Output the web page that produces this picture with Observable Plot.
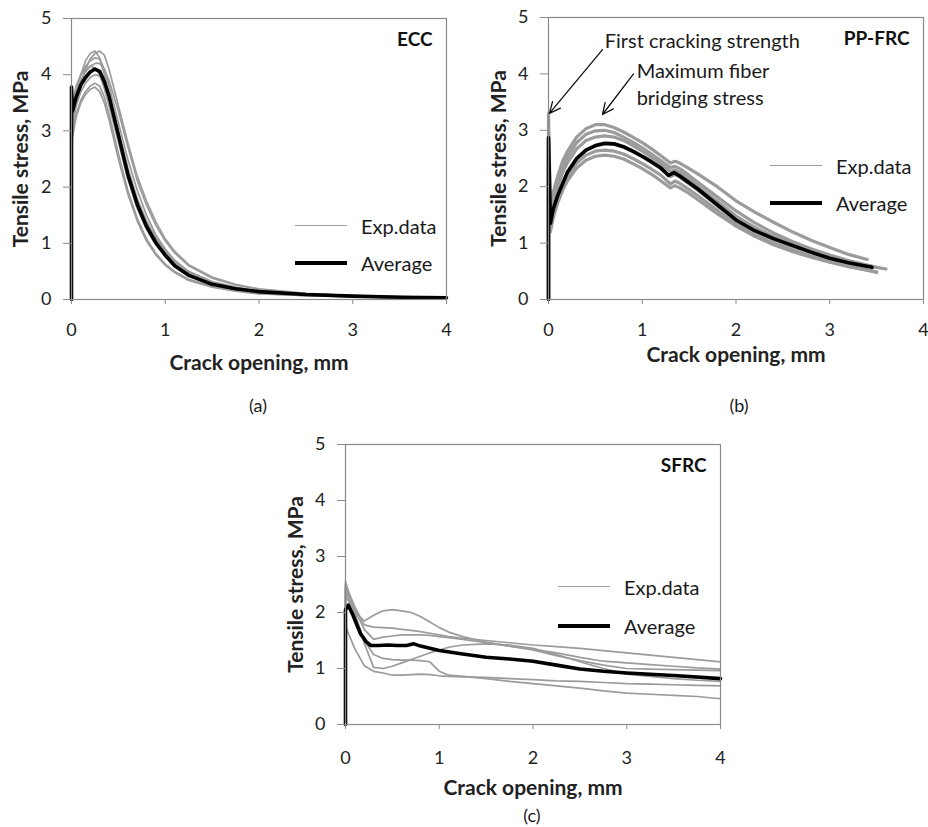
<!DOCTYPE html>
<html><head><meta charset="utf-8">
<script src="https://cdn.jsdelivr.net/npm/d3@7"></script>
<script src="https://cdn.jsdelivr.net/npm/@observablehq/plot@0.6"></script>
<style>
body{margin:0;background:#fff;}
#wrap{position:relative;width:928px;height:827px;font-family:Lato,"Open Sans",sans-serif;color:#1a1a1a;background:#fff;overflow:hidden;}
.panel{position:absolute;}
.cap{position:absolute;font-size:18px;transform:translate(-50%,-50%);white-space:nowrap;}
.leg{position:absolute;font-size:20px;white-space:nowrap;}
.leg .sw{position:absolute;height:0;}
.leg .lb{position:absolute;transform:translateY(-50%);}
svg [aria-label="x-axis label"] text, svg [aria-label="y-axis label"] text{font-weight:700;font-size:21px;}
</style></head>
<body><div id="wrap"></div>
<script>
// ---------- ECC (a) ----------
const eccGrid = [0,0.05,0.1,0.15,0.2,0.25,0.3,0.35,0.4,0.5,0.6,0.7,0.8,0.9,1.0,1.1,1.25,1.5,1.75,2.0,2.5,3.0,3.5,4.0];
const eccExp = [
  [3.2,3.7,4.0,4.25,4.38,4.42,4.3,4.0,3.65,2.95,2.3,1.75,1.35,1.05,0.82,0.65,0.47,0.3,0.2,0.14,0.09,0.06,0.04,0.03],
  [3.0,3.5,3.85,4.1,4.28,4.38,4.42,4.35,4.1,3.45,2.8,2.2,1.75,1.38,1.08,0.86,0.62,0.4,0.27,0.19,0.11,0.07,0.05,0.04],
  [3.3,3.75,4.0,4.15,4.25,4.3,4.28,4.1,3.8,3.15,2.5,1.95,1.5,1.15,0.9,0.7,0.5,0.32,0.22,0.15,0.09,0.06,0.04,0.03],
  [3.1,3.6,3.9,4.05,4.15,4.2,4.2,4.1,3.9,3.35,2.72,2.12,1.68,1.32,1.04,0.83,0.6,0.38,0.26,0.18,0.1,0.07,0.05,0.03],
  [3.0,3.45,3.7,3.85,3.95,4.0,3.98,3.85,3.6,3.0,2.35,1.8,1.4,1.1,0.86,0.68,0.49,0.31,0.21,0.14,0.09,0.06,0.04,0.03],
  [2.9,3.3,3.55,3.7,3.8,3.85,3.8,3.6,3.3,2.6,1.95,1.45,1.08,0.82,0.63,0.5,0.36,0.23,0.16,0.11,0.07,0.05,0.03,0.02],
  [2.8,3.25,3.5,3.65,3.74,3.78,3.7,3.5,3.2,2.5,1.88,1.4,1.04,0.79,0.61,0.48,0.34,0.22,0.15,0.1,0.07,0.05,0.03,0.02],
  [3.4,3.8,4.0,4.1,4.15,4.12,4.0,3.75,3.45,2.8,2.15,1.62,1.25,0.97,0.76,0.6,0.43,0.28,0.19,0.13,0.08,0.05,0.04,0.03]
];
const eccAvgX = [0,0,0.01,0.05,0.1,0.15,0.2,0.25,0.3,0.35,0.4,0.5,0.6,0.7,0.8,0.9,1.0,1.1,1.25,1.5,1.75,2.0,2.5,3.0,3.5,4.0];
const eccAvgY = [0,3.78,3.35,3.6,3.82,3.95,4.05,4.1,4.06,3.88,3.62,2.93,2.23,1.7,1.3,1.01,0.79,0.6,0.43,0.27,0.19,0.14,0.09,0.06,0.04,0.03];

// ---------- PP-FRC (b) ----------
const ppGrid = [0.02,0.05,0.1,0.15,0.2,0.3,0.4,0.5,0.6,0.7,0.8,0.9,1.0,1.1,1.2,1.3,1.35,1.4,1.5,1.6,1.8,2.0,2.2,2.4,2.6,2.8,3.0,3.2,3.4,3.5,3.6];
const ppSpike = [3.3,2.6,2.2,2.8,1.8,2.4];
const ppExp = [
  [1.6,1.9,2.2,2.45,2.62,2.88,3.03,3.1,3.1,3.05,2.97,2.88,2.78,2.67,2.55,2.42,2.45,2.42,2.32,2.22,2.0,1.75,1.55,1.37,1.2,1.05,0.92,0.8,0.71,null,null],
  [1.5,1.8,2.1,2.35,2.52,2.78,2.93,2.99,3.0,2.96,2.88,2.79,2.69,2.58,2.46,2.34,2.36,2.32,2.2,2.07,1.82,1.57,1.36,1.18,1.03,0.9,0.79,0.69,0.61,0.57,0.54],
  [1.4,1.7,2.0,2.25,2.42,2.67,2.82,2.88,2.9,2.88,2.82,2.73,2.63,2.52,2.4,2.27,2.3,2.25,2.13,2.0,1.74,1.48,1.28,1.12,0.98,0.86,0.76,0.67,0.6,0.57,null],
  [1.3,1.55,1.85,2.07,2.25,2.5,2.65,2.72,2.76,2.75,2.7,2.62,2.53,2.43,2.32,2.18,2.22,2.17,2.05,1.93,1.66,1.4,1.21,1.06,0.94,0.83,0.72,0.64,0.57,null,null],
  [1.25,1.5,1.78,2.0,2.17,2.42,2.56,2.63,2.65,2.63,2.58,2.5,2.41,2.31,2.2,2.05,2.1,2.06,1.95,1.83,1.58,1.34,1.15,1.0,0.88,0.77,0.67,0.59,0.52,0.48,null],
  [1.2,1.45,1.72,1.93,2.1,2.33,2.47,2.54,2.56,2.54,2.49,2.41,2.32,2.22,2.1,1.98,2.02,1.98,1.88,1.76,1.52,1.3,1.12,0.97,0.85,0.75,0.66,0.58,0.52,0.49,null]
];
const ppAvgX = [0,0,0.02,0.05,0.1,0.15,0.2,0.3,0.4,0.5,0.6,0.7,0.8,0.9,1.0,1.1,1.2,1.28,1.34,1.4,1.5,1.6,1.8,2.0,2.2,2.4,2.6,2.8,3.0,3.2,3.45];
const ppAvgY = [0,2.87,1.35,1.6,1.85,2.05,2.25,2.5,2.65,2.73,2.77,2.76,2.71,2.63,2.54,2.44,2.33,2.2,2.25,2.19,2.07,1.95,1.68,1.41,1.22,1.08,0.96,0.84,0.73,0.65,0.57];
const ppNotes = [
  {label:"First cracking strength", tx:0.6, ty:4.61},
  {label:"Maximum fiber\nbridging stress", tx:0.94, ty:3.84}
];
const ppArrows = [
  {x1:0.576, y1:4.43, x2:0.01, y2:3.3},
  {x1:0.907, y1:4.0, x2:0.576, y2:3.28}
];

// ---------- SFRC (c) ----------
const sfGrid = [0,0.1,0.2,0.3,0.4,0.5,0.6,0.7,0.8,0.9,1.0,1.1,1.25,1.5,1.75,2.0,2.25,2.5,2.75,3.0,3.25,3.5,3.75,4.0];
const sfExp = [
  [2.3,2.0,1.85,1.95,2.03,2.05,2.03,2.0,1.93,1.83,1.73,1.65,1.57,1.47,1.4,1.33,1.23,1.14,1.06,1.0,0.99,0.98,0.97,0.96],
  [2.5,2.1,1.78,1.74,1.73,1.72,1.7,1.68,1.66,1.63,1.6,1.57,1.54,1.5,1.46,1.42,1.39,1.36,1.32,1.28,1.24,1.2,1.16,1.12],
  [2.45,2.05,1.7,1.52,1.56,1.58,1.6,1.6,1.6,1.59,1.57,1.55,1.52,1.46,1.4,1.34,1.28,1.2,1.13,1.1,1.07,1.04,1.01,0.99],
  [2.55,2.0,1.45,1.02,1.0,1.04,1.1,1.16,1.22,1.28,1.33,1.38,1.42,1.44,1.42,1.36,1.25,1.12,1.0,0.9,0.86,0.82,0.79,0.77],
  [2.4,1.95,1.5,1.25,1.18,1.16,1.15,1.15,1.14,1.12,0.95,0.88,0.86,0.82,0.77,0.73,0.69,0.65,0.6,0.56,0.54,0.52,0.5,0.46],
  [1.75,1.35,1.05,0.95,0.92,0.88,0.88,0.89,0.9,0.89,0.87,0.86,0.85,0.84,0.82,0.8,0.78,0.77,0.75,0.73,0.72,0.71,0.7,0.69]
];
const sfAvgX = [0,0,0.03,0.08,0.16,0.22,0.27,0.35,0.45,0.55,0.65,0.73,0.8,0.9,1.0,1.25,1.5,1.75,2.0,2.25,2.5,2.75,3.0,3.5,4.0];
const sfAvgY = [0,2.05,2.13,1.95,1.62,1.48,1.41,1.41,1.42,1.41,1.41,1.44,1.4,1.36,1.32,1.26,1.2,1.17,1.13,1.06,0.99,0.95,0.92,0.875,0.82];

// ---------- shared ----------
const xTicks = [0,1,2,3,4];
const yTicks = [0,1,2,3,4,5];
const xLabel = "Crack opening, mm";
const yLabel = "Tensile stress, MPa";
const legendLabels = ["Exp.data","Average"];

function expTable(grid, sets, spikes){
  const out = [];
  sets.forEach((ys,i)=>{
    out.push({id:i,x:0,y:0});
    if (spikes) out.push({id:i,x:0,y:spikes[i]});
    grid.forEach((x,j)=>out.push({id:i,x,y:ys[j]}));
  });
  return out;
}
function avgTable(xs, ys){ return xs.map((x,i)=>({x,y:ys[i]})); }

const wrap = document.getElementById("wrap");

function panel(o){
  const marks = [
    Plot.line(o.exp, {x:"x", y:"y", z:"id", stroke:"#9b9b9b", strokeWidth:o.expWidth}),
    Plot.line(o.avg, {x:"x", y:"y", stroke:"#000", strokeWidth:3.6}),
    Plot.frame({stroke:"#8a8a8a", strokeWidth:1.2}),
    Plot.axisX({ticks:xTicks, tickFormat:d3.format("d"), tickSize:5, tickPadding:o.xPad, stroke:"#8a8a8a", fill:"#222", fontSize:18,
      label:xLabel, labelAnchor:"center", labelArrow:"none", labelOffset:o.xLabOff}),
    Plot.axisY({ticks:yTicks, tickFormat:d3.format("d"), tickSize:8, tickPadding:12, stroke:"#8a8a8a", fill:"#222", fontSize:18,
      label:yLabel, labelAnchor:"center", labelArrow:"none", labelOffset:o.yLabOff}),
    Plot.text([o.title], {frameAnchor:"top-right", dx:-14, dy:21, lineAnchor:"middle", textAnchor:"end",
      fontWeight:"bold", fontSize:19, fill:"#111"})
  ];
  if (o.extra) marks.push(...o.extra);
  const svg = Plot.plot({
    width:o.w, height:o.h,
    marginLeft:o.ml, marginRight:o.mr, marginTop:o.mt, marginBottom:o.mb,
    x:{domain:[0,4]}, y:{domain:[0,5]},
    style:{fontFamily:"Lato, 'Open Sans', sans-serif", fontSize:"18px", color:"#222", background:"transparent", overflow:"visible"},
    marks
  });
  const d = document.createElement("div");
  d.className = "panel";
  d.style.left = o.left+"px"; d.style.top = o.top+"px";
  d.appendChild(svg);
  wrap.appendChild(d);
}

function legend(x, y1, y2){
  [[y1,"#9b9b9b",1.8,legendLabels[0]],[y2,"#000",4,legendLabels[1]]].forEach(([y,c,w,t])=>{
    const g = document.createElement("div");
    g.className = "leg";
    g.style.left = x+"px"; g.style.top = y+"px";
    g.innerHTML = `<div class="sw" style="left:0;width:52px;top:${-w/2}px;border-top:${w}px solid ${c}"></div><div class="lb" style="left:66px">${t}</div>`;
    wrap.appendChild(g);
  });
}
function caption(t, x, y){
  const c = document.createElement("div");
  c.className = "cap"; c.style.left = x+"px"; c.style.top = y+"px"; c.textContent = t;
  wrap.appendChild(c);
}

panel({left:0, top:0, w:464, h:378, ml:71, mr:18, mt:18, mb:79, xPad:19, xLabOff:70, yLabOff:58,
  exp:expTable(eccGrid, eccExp), avg:avgTable(eccAvgX, eccAvgY), expWidth:1.7, title:"ECC"});

panel({left:470, top:0, w:458, h:375, ml:78, mr:5, mt:17, mb:76, xPad:19, xLabOff:62, yLabOff:57,
  exp:expTable(ppGrid, ppExp, ppSpike), avg:avgTable(ppAvgX, ppAvgY), expWidth:3.2, title:"PP-FRC",
  extra:[
    Plot.arrow(ppArrows, {x1:"x1", y1:"y1", x2:"x2", y2:"y2", stroke:"#111", strokeWidth:1.3, headLength:14, headAngle:50}),
    Plot.text(ppNotes, {x:"tx", y:"ty", text:"label", textAnchor:"start", lineAnchor:"middle", fontSize:20, lineHeight:1.35, fill:"#1a1a1a"})
  ]});

panel({left:274, top:426, w:464, h:374, ml:71, mr:18, mt:18, mb:76, xPad:22, xLabOff:70, yLabOff:57,
  exp:expTable(sfGrid, sfExp), avg:avgTable(sfAvgX, sfAvgY), expWidth:1.7, title:"SFRC"});

legend(295, 226, 263);
legend(770, 166, 203);
legend(558, 587, 626);
caption("(a)", 258, 405);
caption("(b)", 739, 405);
caption("(c)", 532, 815);
</script></body></html>
